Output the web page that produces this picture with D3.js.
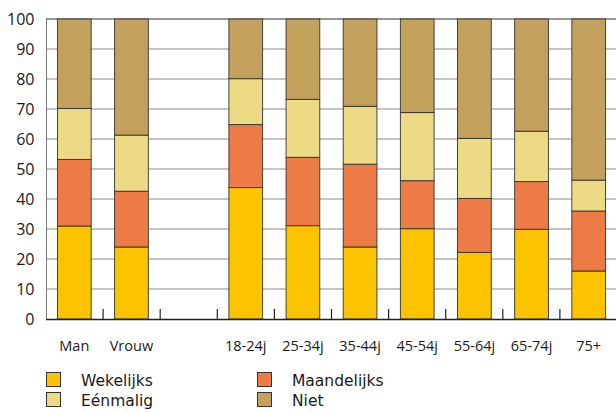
<!DOCTYPE html>
<html><head><meta charset="utf-8">
<script src="https://cdn.jsdelivr.net/npm/d3@7"></script>
<style>body{margin:0;background:#fff}svg{display:block}text{font-family:"Open Sans",sans-serif;fill:#1a1a1a}</style>
</head><body><svg id="c" width="616" height="412"></svg>
<script>
const slots = ["Man","Vrouw","","18-24j","25-34j","35-44j","45-54j","55-64j","65-74j","75+"];
const categories = ["Man","Vrouw","18-24j","25-34j","35-44j","45-54j","55-64j","65-74j","75+"];
const seriesNames = ["Wekelijks","Maandelijks","Eénmalig","Niet"];
const wekelijks   = [31, 24, 43.8, 31.1, 24, 30.1, 22.2, 29.9, 16];
const maandelijks = [22.2, 18.6, 21, 22.8, 27.6, 16, 18, 15.9, 20];
const eenmalig    = [17, 18.7, 15.3, 19.3, 19.3, 22.7, 20, 16.8, 10.3];
const niet        = [29.8, 38.7, 19.9, 26.8, 29.1, 31.2, 39.8, 37.4, 53.7];
const yTicks = [0,10,20,30,40,50,60,70,80,90,100];
const colors = ["#FBC300","#EC7B45","#ECDA84","#C3A05C"];

const svg = d3.select("#c");
const x = d3.scaleBand().domain(slots.map((s,i)=>i)).range([46,617]).paddingInner(0.41).paddingOuter(0.2);
const xBound = d3.scaleLinear().domain([0,10]).range([46,617]);
const y = d3.scaleLinear().domain([0,100]).range([319,19]);

// gridlines
svg.append("g").selectAll("line").data(yTicks.filter(d=>d>0)).join("line")
  .attr("x1",46).attr("x2",616).attr("y1",d=>y(d)).attr("y2",d=>y(d))
  .attr("stroke",d=>d===100?"#333":"#8a8a8a").attr("stroke-width",1.2);
// left axis line
svg.append("line").attr("x1",46.5).attr("x2",46.5).attr("y1",y(100)).attr("y2",y(0)).attr("stroke","#777").attr("stroke-width",1);

// y labels
svg.append("g").selectAll("text").data(yTicks).join("text")
  .attr("x",34.5).attr("y",d=>y(d)).attr("dy","0.36em").attr("text-anchor","end")
  .style("font-size","16px").text(d=>d);

// stacked bars
const rows = categories.map((c,i)=>({cat:c, slot:slots.indexOf(c), v:[wekelijks[i],maandelijks[i],eenmalig[i],niet[i]]}));
const stack = d3.stack().keys([0,1,2,3]).value((d,k)=>d.v[k]);
const layers = stack(rows);
svg.append("g").selectAll("g").data(layers).join("g").attr("fill",(d,i)=>colors[i])
  .selectAll("rect").data(d=>d).join("rect")
  .attr("x",d=>x(d.data.slot)).attr("width",x.bandwidth())
  .attr("y",d=>y(d[1])).attr("height",d=>y(d[0])-y(d[1]))
  .attr("stroke","#333").attr("stroke-width",0.9);

// baseline and tick marks
svg.append("line").attr("x1",46).attr("x2",616).attr("y1",y(0)+0.5).attr("y2",y(0)+0.5).attr("stroke","#222").attr("stroke-width",1.3);
svg.append("g").selectAll("line").data(d3.range(1,11)).join("line")
  .attr("x1",d=>xBound(d)).attr("x2",d=>xBound(d)).attr("y1",y(0)).attr("y2",y(0)-10)
  .attr("stroke","#222").attr("stroke-width",1.2);

// x labels
svg.append("g").selectAll("text").data(slots.map((s,i)=>({s,i})).filter(d=>d.s)).join("text")
  .attr("x",d=>x(d.i)+x.bandwidth()/2).attr("y",351).attr("text-anchor","middle")
  .style("font-size","14.5px").text(d=>d.s);

// legend
const leg = [{n:seriesNames[0],c:colors[0],x:46,y:372},{n:seriesNames[1],c:colors[1],x:257,y:372},
             {n:seriesNames[2],c:colors[2],x:46,y:392},{n:seriesNames[3],c:colors[3],x:257,y:392}];
const lg = svg.append("g").selectAll("g").data(leg).join("g").attr("transform",d=>`translate(${d.x},${d.y})`);
lg.append("rect").attr("x",0.5).attr("y",0.5).attr("width",14).attr("height",14).attr("fill",d=>d.c).attr("stroke","#333").attr("stroke-width",1);
lg.append("text").attr("x",35).attr("y",14).style("font-family","'DejaVu Sans',sans-serif").style("font-size","15.5px").text(d=>d.n);
</script></body></html>
